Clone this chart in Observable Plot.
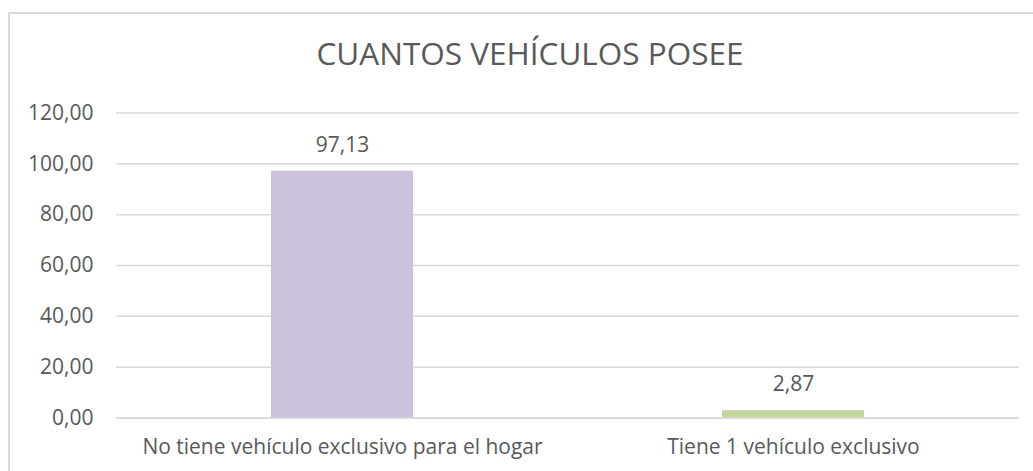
<!DOCTYPE html>
<html>
<head>
<meta charset="utf-8">
<script src="https://cdn.jsdelivr.net/npm/d3@7"></script>
<script src="https://cdn.jsdelivr.net/npm/@observablehq/plot@0.6"></script>
<style>
  html, body { margin: 0; padding: 0; background: #fff; }
  #wrap { position: relative; width: 1033px; height: 471px; overflow: hidden; font-family: "Open Sans", sans-serif; }
  #frame { position: absolute; left: 8px; top: 12px; width: 1030px; height: 470px; border: 2px solid #d9d9d9; box-sizing: border-box; }
  #title { position: absolute; left: 0; width: 1060px; top: 31px; text-align: center; font-size: 31.5px; color: #595959; white-space: nowrap; }
  #chart { position: absolute; left: 0; top: 0; }
</style>
</head>
<body>
<div id="wrap">
  <div id="frame"></div>
  <div id="chart"></div>
  <div id="title">CUANTOS VEHÍCULOS POSEE</div>
</div>
<script>
const categories = ["No tiene vehículo exclusivo para el hogar", "Tiene 1 vehículo exclusivo"];
const values = [97.13, 2.87];
const colors = ["#ccc1da", "#c3d69b"];
const yTicks = [0, 20, 40, 60, 80, 100, 120];

const data = categories.map((c, i) => ({category: c, value: values[i], color: colors[i]}));
const fmt = v => v.toFixed(2).replace(".", ",");

const plot = Plot.plot({
  width: 1033,
  height: 471,
  marginLeft: 116,
  marginRight: 14,
  marginTop: 112.5,
  marginBottom: 53.5,
  style: {fontFamily: "Open Sans, sans-serif", fontSize: "21px", color: "#595959", background: "transparent"},
  x: {domain: categories, paddingInner: 0.686, paddingOuter: 0.343, label: null},
  y: {domain: [0, 120], ticks: yTicks, label: null},
  marks: [
    Plot.ruleY(yTicks, {stroke: "#d9d9d9", strokeWidth: 1.5}),
    Plot.barY(data, {x: "category", y: "value", fill: "color"}),
    Plot.ruleY([0], {stroke: "#d9d9d9", strokeWidth: 1.5}),
    Plot.text(data, {x: "category", y: "value", text: d => fmt(d.value), dy: -26, fill: "#595959", fontSize: 21}),
    Plot.axisY({ticks: yTicks, tickSize: 0, tickPadding: 23, tickFormat: fmt, fill: "#595959", fontSize: 21}),
    Plot.axisX({tickSize: 0, tickPadding: 21, fill: "#595959", fontSize: 21})
  ]
});
document.getElementById("chart").appendChild(plot);
</script>
</body>
</html>
